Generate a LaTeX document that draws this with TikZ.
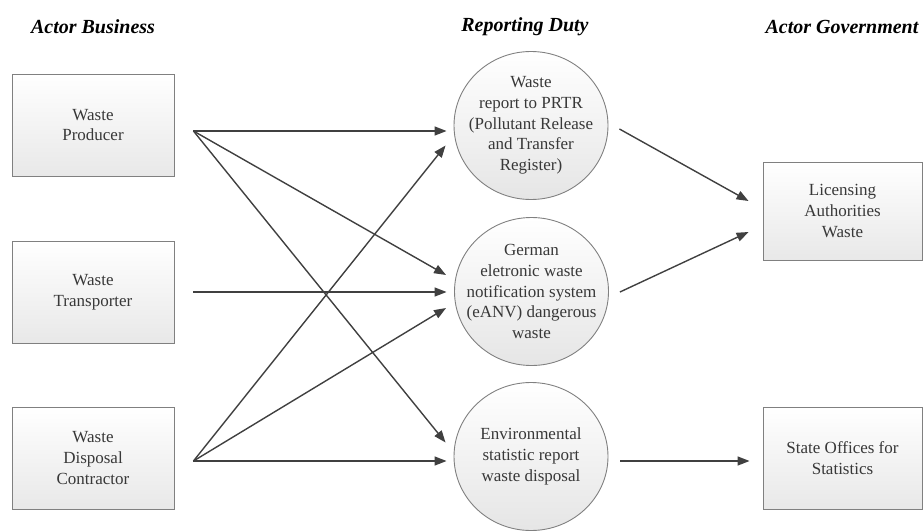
\documentclass[tikz,border=0pt]{standalone}
\usepackage{fontspec}
\setmainfont{Liberation Serif}
\usetikzlibrary{arrows.meta,shapes.geometric,shadows,calc}

\begin{document}
\begin{tikzpicture}[x=1pt,y=-1pt,
  actor/.style={rectangle, draw=black!50, line width=0.9pt,
    top color=white, bottom color=black!9,
    minimum width=162pt, minimum height=102pt, inner sep=0pt,
    align=center, text=black!78,
    font=\fontsize{17}{20.7}\selectfont,
    drop shadow={shadow xshift=1.2pt, shadow yshift=-1.2pt, opacity=0.25}},
  duty/.style={ellipse, draw=black!50, line width=0.9pt,
    top color=white, bottom color=black!10,
    minimum width=154pt, minimum height=148pt, inner sep=0pt},
  dutytext/.style={align=center, text=black!78, inner sep=0pt,
    font=\fontsize{17}{20.7}\selectfont},
  flow/.style={draw=black!75, line width=1.4pt,
    -{Triangle[length=12pt,width=9pt]}},
  head/.style={font=\fontsize{20}{24}\selectfont\bfseries\itshape}
]
\useasboundingbox (0,0) rectangle (923,530);

% column headings
\node[head] (hB) at (93,27) {Actor Business};
\node[head] (hR) at (525,27) {Reporting Duty};
\node[head] (hG) at (842,27) {Actor Government};

% business actors
\node[actor] (prod) at (93,125) {Waste\\Producer};
\node[actor] (trans) at (93,292) {Waste\\Transporter};
\node[actor] (contr) at (93,458) {Waste\\Disposal\\Contractor};

% reporting duties: the outline and its centred caption
\node[duty] (prtr) at (531,125.5) {};
\node[dutytext] (prtr-t) at (prtr.center) {Waste\\report to PRTR\\(Pollutant Release\\and Transfer\\Register)};
\node[duty] (eanv) at (531.5,291.5) {};
\node[dutytext] (eanv-t) at (eanv.center) {German\\eletronic waste\\notification system\\(eANV) dangerous\\waste};
\node[duty] (stat) at (531,456.5) {};
\node[dutytext] (stat-t) at (stat.center) {Environmental\\statistic report\\waste disposal};

% government actors
\node[actor, minimum width=159pt, minimum height=98pt] (lic) at (842.5,211) {Licensing\\Authorities\\Waste};
\node[actor, minimum width=159pt] (sos) at (842.5,458) {State Offices for\\Statistics};

% arrow origins beside the business actors
\coordinate (pOut) at ($(prod.east)+(19,6)$);
\coordinate (tOut) at ($(trans.east)+(19,0)$);
\coordinate (cOut) at ($(contr.east)+(19,3)$);

% business -> reporting duty
\draw[flow] (pOut) -- ($(prtr.west)+(-7,5.5)$);
\draw[flow] (pOut) -- ($(eanv.west)+(-8,-16.5)$);
\draw[flow] (pOut) -- ($(stat.west)+(-8,-14)$);
\draw[flow] (tOut) -- ($(eanv.west)+(-7.5,0.5)$);
\draw[flow] (cOut) -- ($(prtr.west)+(-8,20)$);
\draw[flow] (cOut) -- ($(eanv.west)+(-8,16.5)$);
\draw[flow] (cOut) -- ($(stat.west)+(-7,4.5)$);

% reporting duty -> government
\draw[flow] ($(prtr.east)+(11,3.5)$) -- ($(lic.west)+(-14,-10)$);
\draw[flow] ($(eanv.east)+(11,0.5)$) -- ($(lic.west)+(-14,21)$);
\draw[flow] ($(stat.east)+(12,4.5)$) -- ($(sos.west)+(-13,3)$);
\end{tikzpicture}
\end{document}
